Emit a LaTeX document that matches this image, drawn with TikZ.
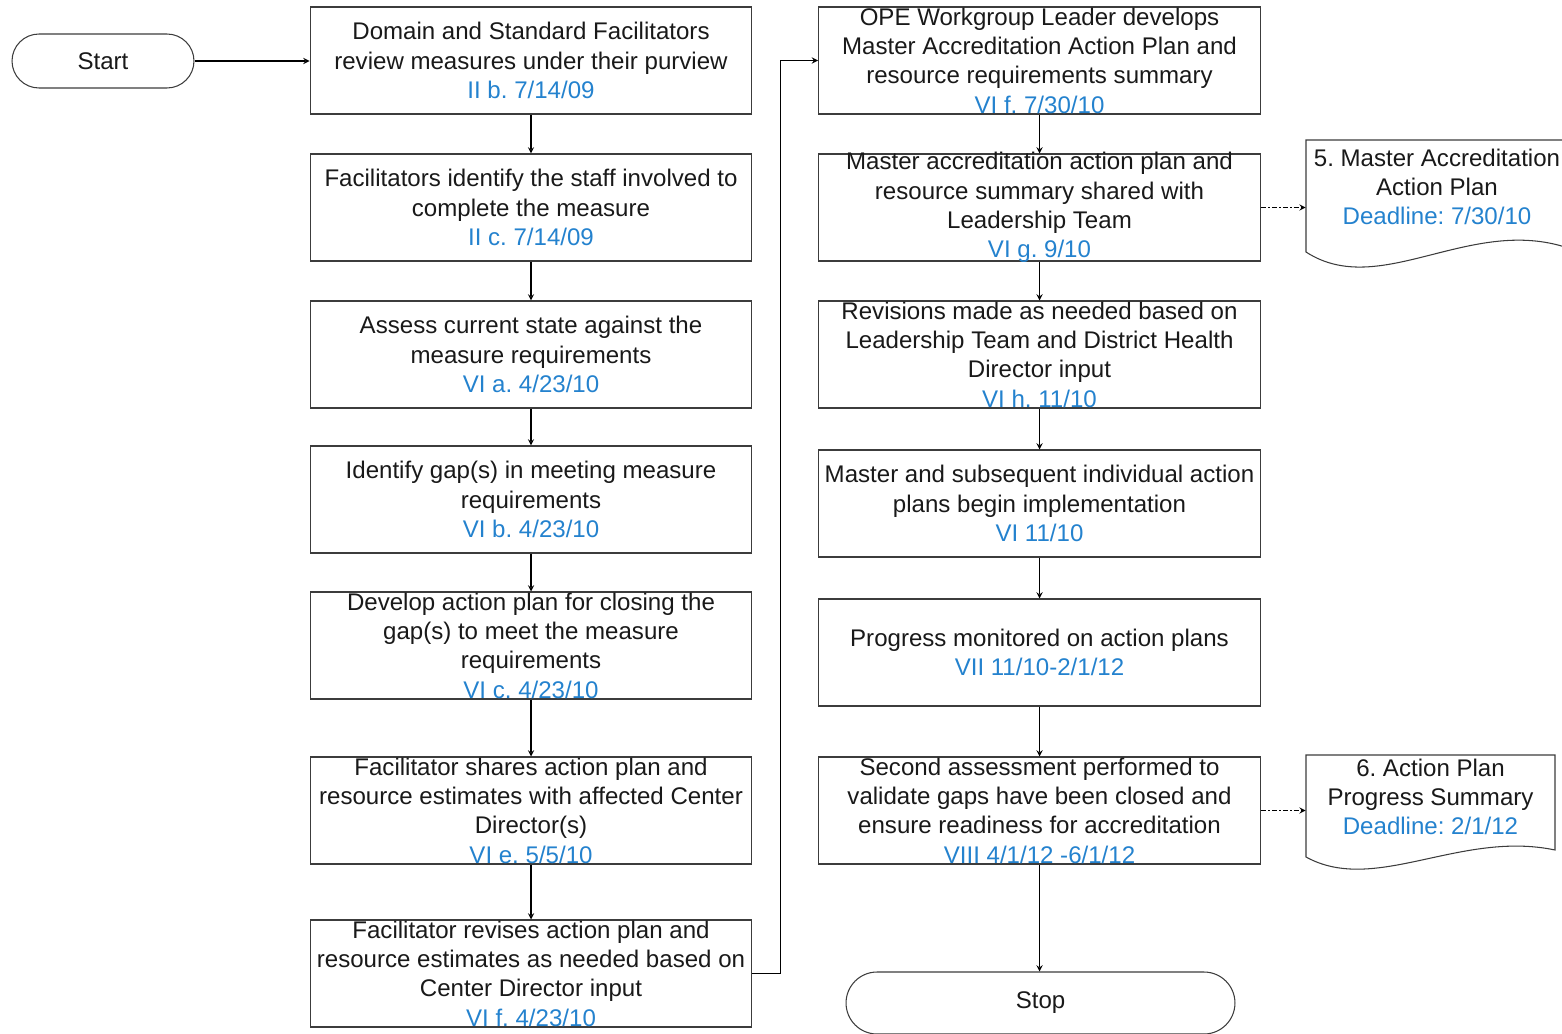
\documentclass[tikz,border=0pt]{standalone}
\usepackage{fontspec}
\setmainfont{Liberation Sans}
\usetikzlibrary{shapes.misc}
\definecolor{refblue}{RGB}{36, 130, 206}
\definecolor{edge}{RGB}{60, 60, 60}
\frenchspacing

\newcommand{\steptext}[2]{\parbox[c][2.14cm][c]{8.84cm}{\centering #1\\\textcolor{refblue}{#2}}}

\begin{document}
\begin{tikzpicture}[x=0.02cm, y=-0.02cm,
  every node/.style={font=\fontsize{13.7}{16.7}\selectfont, text=black!90},
  stepbox/.style={draw=edge, line width=0.6pt, inner sep=0pt},
  terminal/.style={rounded rectangle, draw=edge, line width=0.6pt, inner sep=0pt},
  docnote/.style={align=center, inner sep=0pt},
  flow/.style={->, >=stealth, line width=0.6pt},
  docflow/.style={flow, dash pattern=on 3pt off 1.2pt on 0.8pt off 1.2pt}]
  \useasboundingbox (0, 0) rectangle (1562, 1034);

  % terminals
  \node[terminal, minimum width=3.64cm, minimum height=1.08cm] (start) at (103, 61) {Start};
  \node[terminal, minimum width=7.78cm, minimum height=1.24cm] (stop) at (1040.5, 1003) {Stop};

  % left column
  \node[stepbox] (b1) at (531, 60.5) {\steptext{Domain and Standard Facilitators\\review measures under their purview}{II b. 7/14/09}};
  \node[stepbox] (b2) at (531, 207.5) {\steptext{Facilitators identify the staff involved to\\complete the measure}{II c. 7/14/09}};
  \node[stepbox] (b3) at (531, 354.5) {\steptext{Assess current state against the\\measure requirements}{VI a. 4/23/10}};
  \node[stepbox] (b4) at (531, 499.5) {\steptext{Identify gap(s) in meeting measure\\requirements}{VI b. 4/23/10}};
  \node[stepbox] (b5) at (531, 645.5) {\steptext{Develop action plan for closing the\\gap(s) to meet the measure\\requirements}{VI c. 4/23/10}};
  \node[stepbox] (b6) at (531, 810.5) {\steptext{Facilitator shares action plan and\\resource estimates with affected Center\\Director(s)}{VI e. 5/5/10}};
  \node[stepbox] (b7) at (531, 973.5) {\steptext{Facilitator revises action plan and\\resource estimates as needed based on\\Center Director input}{VI f. 4/23/10}};

  % right column
  \node[stepbox] (r1) at (1039.5, 60.5) {\steptext{OPE Workgroup Leader develops\\Master Accreditation Action Plan and\\resource requirements summary}{VI f. 7/30/10}};
  \node[stepbox] (r2) at (1039.5, 207.5) {\steptext{Master accreditation action plan and\\resource summary shared with\\Leadership Team}{VI g. 9/10}};
  \node[stepbox] (r3) at (1039.5, 354.5) {\steptext{Revisions made as needed based on\\Leadership Team and District Health\\Director input}{VI h. 11/10}};
  \node[stepbox] (r4) at (1039.5, 503.5) {\steptext{Master and subsequent individual action\\plans begin implementation}{VI 11/10}};
  \node[stepbox] (r5) at (1039.5, 652.5) {\steptext{Progress monitored on action plans}{VII 11/10-2/1/12}};
  \node[stepbox] (r6) at (1039.5, 810.5) {\steptext{Second assessment performed to\\validate gaps have been closed and\\ensure readiness for accreditation}{VIII 4/1/12 -6/1/12}};

  % documents
  \node[docnote, minimum width=5.24cm] (d1) at (1437, 187) {5. Master Accreditation\\Action Plan\\\textcolor{refblue}{Deadline: 7/30/10}};
  \node[docnote, minimum width=4.98cm] (d2) at (1430.5, 797) {6. Action Plan\\Progress Summary\\\textcolor{refblue}{Deadline: 2/1/12}};
  \draw[edge, line width=0.6pt] (1306, 252) -- (1306, 140) -- (1568, 140) -- (1568, 248)
    .. controls (1470, 215) and (1380, 300) .. (1306, 252) -- cycle;
  \draw[edge, line width=0.6pt] (1306, 857) -- (1306, 755) -- (1555, 755) -- (1555, 850)
    .. controls (1460, 830) and (1375, 895) .. (1306, 857) -- cycle;

  % connectors
  \draw[flow] (start.east) -- (start.east -| b1.west);
  \foreach \a/\b in {b1/b2, b2/b3, b3/b4, b4/b5, b5/b6, b6/b7, r1/r2, r2/r3, r3/r4, r4/r5, r5/r6}
    \draw[flow] (\a) -- (\b);
  \draw[flow] (b7.east) -- ++(28, 0) |- (r1.west);
  \draw[flow] (r6.south) -- (r6.south |- stop.north);
  \draw[docflow] (r2.east) -- (r2.east -| d1.west);
  \draw[docflow] (r6.east) -- (r6.east -| d2.west);

\end{tikzpicture}
\end{document}
